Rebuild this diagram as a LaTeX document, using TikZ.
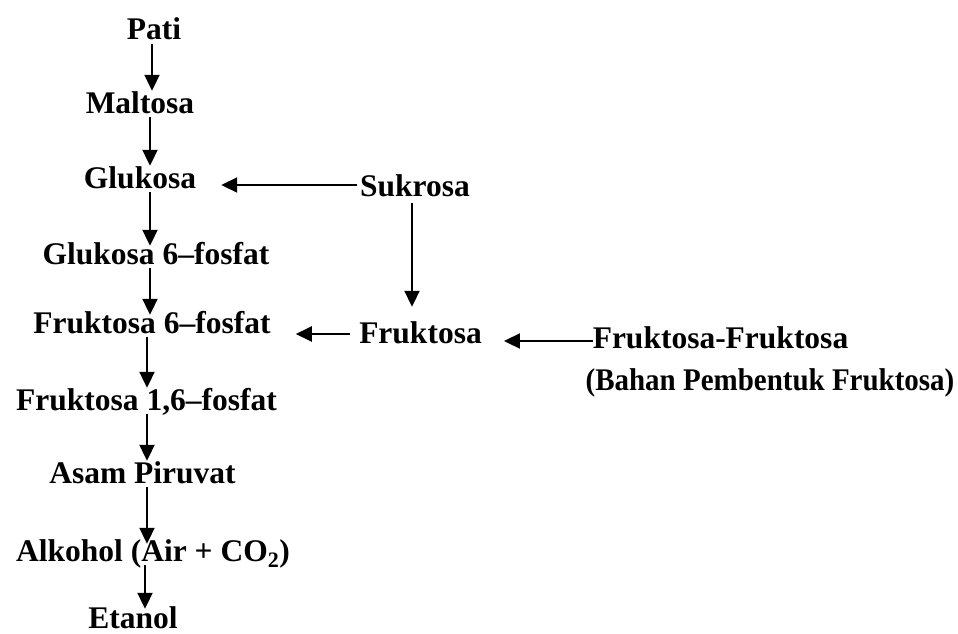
\documentclass[tikz,border=0pt]{standalone}
\usepackage{fontspec}
\setmainfont{Liberation Serif}
\usetikzlibrary{arrows.meta,calc}
\begin{document}
\begin{tikzpicture}[x=1pt,y=-1pt,
  lbl/.style={inner sep=0pt,anchor=base,text height=22pt,text depth=4pt,
    font=\fontsize{31.5}{36}\selectfont\bfseries},
  arr/.style={line width=2pt,-{Triangle[length=16pt,width=15pt]}}]
\useasboundingbox[fill=white] (0,0) rectangle (958,634);
% main column
\node[lbl] (pati) at (154,40) {Pati};
\node[lbl] (maltosa) at (140,113) {Maltosa};
\node[lbl] (glukosa) at (140,188) {Glukosa};
\node[lbl] (g6p) at (156,264) {Glukosa 6–fosfat};
\node[lbl] (f6p) at (152,333) {Fruktosa 6–fosfat};
\node[lbl] (f16p) at (146.5,410) {Fruktosa 1,6–fosfat};
\node[lbl] (asam) at (142.5,483) {Asam Piruvat};
\node[lbl] (alk) at (153,561) {Alkohol (Air + CO\textsubscript{2})};
\node[lbl] (etanol) at (133,628) {Etanol};
% right side
\node[lbl] (sukrosa) at (415,196) {Sukrosa};
\node[lbl] (fruktosa) at (420.5,343) {Fruktosa};
\node[lbl] (ff) at (720.5,348) {Fruktosa-Fruktosa};
\node[lbl] (bahan) at (770,390) {\scalebox{0.92}[1]{(Bahan Pembentuk Fruktosa)}};
% columns for the vertical arrows
\coordinate (k1) at (152,0);
\coordinate (k2) at (150,0);
\coordinate (k3) at (147,0);
\coordinate (k4) at (145,0);
\coordinate (k5) at (412,0);
% vertical arrows
\draw[arr] (pati.south -| k1) -- (maltosa.north -| k1);
\draw[arr] (maltosa.south -| k2) -- (glukosa.north -| k2);
\draw[arr] (glukosa.south -| k2) -- ([yshift=-4pt]g6p.north -| k2);
\draw[arr] (g6p.south -| k2) -- ([yshift=-4pt]f6p.north -| k2);
\draw[arr] (f6p.south -| k3) -- (f16p.north -| k3);
\draw[arr] (f16p.south -| k3) -- (asam.north -| k3);
\draw[arr] (asam.south -| k3) -- ([yshift=-5pt]alk.north -| k3);
\draw[arr] (alk.south -| k4) -- ([yshift=-3pt]etanol.north -| k4);
\draw[arr,shorten <=3pt,shorten >=14pt] (sukrosa.south -| k5) -- (fruktosa.north -| k5);
% horizontal arrows
\draw[arr,shorten <=3pt,shorten >=25pt] ([yshift=2pt]sukrosa.west) -- ([yshift=2pt]sukrosa.west -| glukosa.east);
\draw[arr,shorten <=9pt,shorten >=25pt] (fruktosa.west) -- (fruktosa.west -| f6p.east);
\draw[arr,shorten >=22pt] ([yshift=-2pt]ff.west) -- ([yshift=-2pt]ff.west -| fruktosa.east);
\end{tikzpicture}
\end{document}
